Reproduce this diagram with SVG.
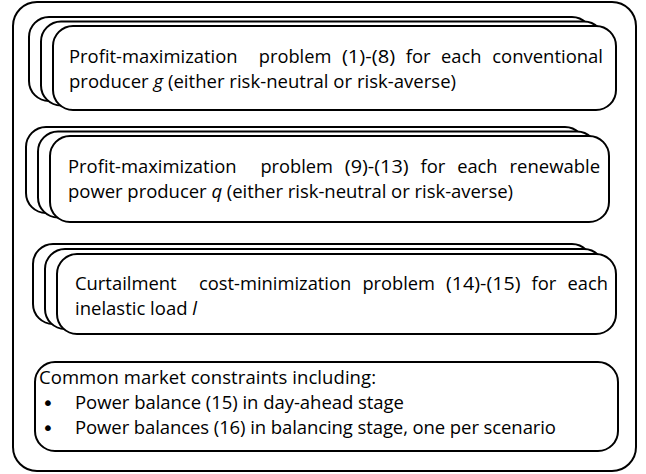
<svg xmlns="http://www.w3.org/2000/svg" width="646" height="474" viewBox="0 0 646 474">
<style>
.box{fill:#fff;stroke:#000;stroke-width:2}
.t{font-family:"Open Sans","Liberation Sans",sans-serif;font-size:18.5px;fill:#000}
.i{font-style:italic}
.b{font-family:"DejaVu Sans",sans-serif;font-size:20px;fill:#000}
</style>
<rect width="646" height="474" fill="#fff"/>
<g id="outer"><rect class="box" x="13" y="2" width="623" height="469" rx="24" ry="24"/></g>
<g id="conventional">
<rect class="box" x="29" y="17" width="563" height="84" rx="20" ry="20"/>
<rect class="box" x="41" y="21.5" width="563" height="84" rx="20" ry="20"/>
<rect class="box" x="53" y="26" width="563" height="84" rx="20" ry="20"/>
<text class="t" y="63"><tspan x="69" textLength="168.6" lengthAdjust="spacingAndGlyphs">Profit-maximization</tspan><tspan x="258.8" textLength="72.5" lengthAdjust="spacingAndGlyphs">problem</tspan><tspan x="341.9" textLength="53.2" lengthAdjust="spacingAndGlyphs">(1)-(8)</tspan><tspan x="405.7" textLength="24.8" lengthAdjust="spacingAndGlyphs">for</tspan><tspan x="441.1" textLength="40.4" lengthAdjust="spacingAndGlyphs">each</tspan><tspan x="492.2" textLength="110.8" lengthAdjust="spacingAndGlyphs">conventional</tspan></text>
<text class="t" x="69" y="88" textLength="387">producer <tspan class="i">g</tspan> (either risk-neutral or risk-averse)</text>
</g>
<g id="renewable">
<rect class="box" x="26" y="127" width="559" height="86" rx="20" ry="20"/>
<rect class="box" x="38" y="131.5" width="559" height="86" rx="20" ry="20"/>
<rect class="box" x="50" y="136" width="559" height="86" rx="20" ry="20"/>
<text class="t" y="173"><tspan x="68" textLength="168.6" lengthAdjust="spacingAndGlyphs">Profit-maximization</tspan><tspan x="260.4" textLength="72.5" lengthAdjust="spacingAndGlyphs">problem</tspan><tspan x="344.8" textLength="63.8" lengthAdjust="spacingAndGlyphs">(9)-(13)</tspan><tspan x="420.5" textLength="24.8" lengthAdjust="spacingAndGlyphs">for</tspan><tspan x="457.2" textLength="40.4" lengthAdjust="spacingAndGlyphs">each</tspan><tspan x="509.5" textLength="90.6" lengthAdjust="spacingAndGlyphs">renewable</tspan></text>
<text class="t" x="68" y="198" textLength="445">power producer <tspan class="i">q</tspan> (either risk-neutral or risk-averse)</text>
</g>
<g id="load">
<rect class="box" x="33" y="244" width="559" height="80" rx="20" ry="20"/>
<rect class="box" x="45" y="249" width="559" height="80" rx="20" ry="20"/>
<rect class="box" x="57" y="254" width="559" height="80" rx="20" ry="20"/>
<text class="t" y="290"><tspan x="75" textLength="101.6" lengthAdjust="spacingAndGlyphs">Curtailment</tspan><tspan x="198.9" textLength="152.4" lengthAdjust="spacingAndGlyphs">cost-minimization</tspan><tspan x="362.4" textLength="72.5" lengthAdjust="spacingAndGlyphs">problem</tspan><tspan x="446" textLength="74.5" lengthAdjust="spacingAndGlyphs">(14)-(15)</tspan><tspan x="531.6" textLength="24.8" lengthAdjust="spacingAndGlyphs">for</tspan><tspan x="567.5" textLength="40.4" lengthAdjust="spacingAndGlyphs">each</tspan></text>
<text class="t" x="75" y="315" textLength="122">inelastic load <tspan class="i">l</tspan></text>
</g>
<g id="market">
<rect class="box" x="35" y="362" width="583" height="89" rx="20" ry="20"/>
<text class="t" x="39" y="384" textLength="337">Common market constraints including:</text>
<text class="b" x="42" y="410">•</text>
<text class="t" x="75" y="409" textLength="329">Power balance (15) in day-ahead stage</text>
<text class="b" x="42" y="435">•</text>
<text class="t" x="75" y="434" textLength="481">Power balances (16) in balancing stage, one per scenario</text>
</g>
<g id="connectors"></g>
</svg>
